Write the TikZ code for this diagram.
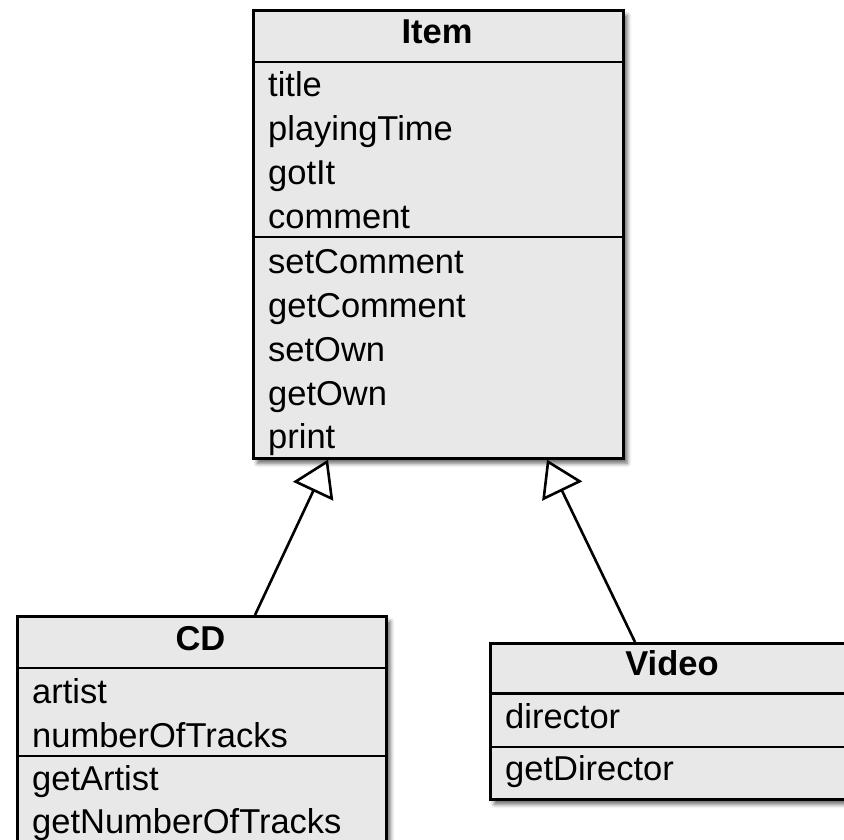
\documentclass[tikz,border=0pt]{standalone}
\usepackage{fontspec}
\setmainfont{Liberation Sans}
\usetikzlibrary{arrows.meta,shadows.blur}
\definecolor{boxgray}{RGB}{232,232,232}
\tikzset{
  classbox/.style={draw=black, line width=2.6pt, fill=boxgray, inner sep=0pt, anchor=north west,
    blur shadow={shadow xshift=4pt, shadow yshift=-5pt, shadow blur radius=4pt, shadow opacity=60}},
  divider/.style={draw=black, line width=2.4pt},
  classname/.style={anchor=base, inner sep=0pt, font=\fontsize{34.5}{40}\selectfont\bfseries},
  member/.style={anchor=base west, inner sep=0pt, font=\fontsize{34.5}{40}\selectfont},
  inherit/.style={draw=black, line width=2.6pt, -{Triangle[open, length=35pt, width=44pt, fill=white]}}
}
\begin{document}
\begin{tikzpicture}[x=1pt, y=-1pt]
\useasboundingbox (0,0) rectangle (844,840);
\clip (0,0) rectangle (844,840);
% Item
\node[classbox, minimum width=370pt, minimum height=448pt] (item) at (252,9) {};
\draw[divider] ([yshift=-53pt]item.north west) -- ([yshift=-53pt]item.north east);
\draw[divider] ([yshift=-228pt]item.north west) -- ([yshift=-228pt]item.north east);
\node[classname] (itemname) at (437,44) {Item};
\node[member] (m1) at (268,97) {title};
\node[member] (m2) at (268,141) {playingTime};
\node[member] (m3) at (268,185) {gotIt};
\node[member] (m4) at (268,229) {comment};
\node[member] (m5) at (268,273) {setComment};
\node[member] (m6) at (268,317) {getComment};
\node[member] (m7) at (268,361) {setOwn};
\node[member] (m8) at (268,405) {getOwn};
\node[member] (m9) at (268,448) {print};
% CD
\node[classbox, minimum width=369pt, minimum height=230pt] (cd) at (16,615) {};
\draw[divider] ([yshift=-53pt]cd.north west) -- ([yshift=-53pt]cd.north east);
\draw[divider] ([yshift=-141pt]cd.north west) -- ([yshift=-141pt]cd.north east);
\node[classname] (cdname) at (200.5,650) {CD};
\node[member] (c1) at (32,703) {artist};
\node[member] (c2) at (32,747) {numberOfTracks};
\node[member] (c3) at (32,790) {getArtist};
\node[member] (c4) at (32,833) {getNumberOfTracks};
% Video
\node[classbox, minimum width=366pt, minimum height=156pt] (video) at (489,642) {};
\draw[divider] ([yshift=-51.5pt]video.north west) -- ([yshift=-51.5pt]video.north east);
\draw[divider] ([yshift=-105pt]video.north west) -- ([yshift=-105pt]video.north east);
\node[classname] (videoname) at (672,675) {Video};
\node[member] (v1) at (505,728) {director};
\node[member] (v2) at (505,780) {getDirector};
% generalisations
\draw[inherit] ([xshift=239pt]cd.north west) -- ([xshift=76pt]item.south west);
\draw[inherit] ([xshift=146pt]video.north west) -- ([xshift=295pt]item.south west);
\end{tikzpicture}
\end{document}
